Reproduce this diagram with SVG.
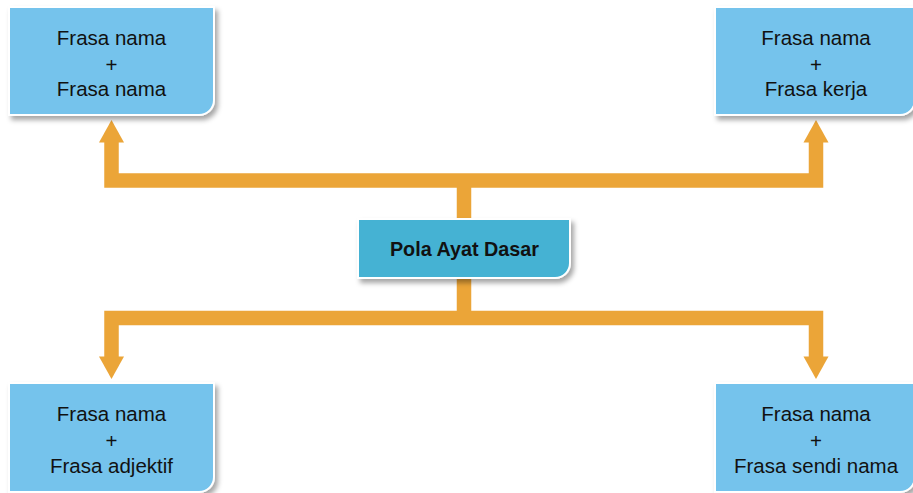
<svg xmlns="http://www.w3.org/2000/svg" width="913" height="493" viewBox="0 0 913 493">
  <defs>
    <filter id="sh" x="-10%" y="-10%" width="130%" height="140%">
      <feDropShadow dx="3" dy="4" stdDeviation="2.5" flood-color="#000" flood-opacity="0.35"/>
    </filter>
  </defs>
  <style>
    .box { fill: #74C3EC; stroke: #FFFFFF; stroke-width: 2; filter: url(#sh); }
    .main { fill: #44B2D3; stroke: #FFFFFF; stroke-width: 2; filter: url(#sh); }
    .t { font-family: "Liberation Sans", Arial, sans-serif; font-size: 20.5px; fill: #111111; text-anchor: middle; }
    .tb { font-family: "Liberation Sans", Arial, sans-serif; font-size: 19.8px; font-weight: bold; fill: #111111; text-anchor: middle; }
    .ln { fill: none; stroke: #EBA538; stroke-width: 14.5; stroke-linejoin: miter; stroke-linecap: butt; }
    .ah { fill: #EBA538; }
  </style>
  <rect width="913" height="493" fill="#FFFFFF"/>
  <g id="connectors">
    <path class="ln" d="M111.5 142 V180.5 H816 V142"/>
    <path class="ln" d="M464 180.5 V220"/>
    <path class="ln" d="M464 277 V318 M111.5 357 V318 H816 V357"/>
    <polygon class="ah" points="99,142.5 124,142.5 111.5,120"/>
    <polygon class="ah" points="803.5,142.5 828.5,142.5 816,120"/>
    <polygon class="ah" points="99,356.5 124,356.5 111.5,379"/>
    <polygon class="ah" points="803.5,356.5 828.5,356.5 816,379"/>
  </g>
  <g id="center">
    <path class="main" d="M358 219 H570 V263 A15 15 0 0 1 555 278 H358 Z"/>
    <text class="tb" x="464.5" y="256">Pola Ayat Dasar</text>
  </g>
  <g id="top-left">
    <path class="box" d="M9 7 H214 V100 A15 15 0 0 1 199 115 H9 Z"/>
    <text class="t" x="111.5" y="45">Frasa nama</text>
    <text class="t" x="111.5" y="72">+</text>
    <text class="t" x="111.5" y="96">Frasa nama</text>
  </g>
  <g id="top-right">
    <path class="box" d="M715 7 H915 V100 A15 15 0 0 1 900 115 H715 Z"/>
    <text class="t" x="816" y="45">Frasa nama</text>
    <text class="t" x="816" y="72">+</text>
    <text class="t" x="816" y="96">Frasa kerja</text>
  </g>
  <g id="bottom-left">
    <path class="box" d="M9 383 H214 V477 A15 15 0 0 1 199 492 H9 Z"/>
    <text class="t" x="111.5" y="421">Frasa nama</text>
    <text class="t" x="111.5" y="448">+</text>
    <text class="t" x="111.5" y="473">Frasa adjektif</text>
  </g>
  <g id="bottom-right">
    <path class="box" d="M715 383 H915 V477 A15 15 0 0 1 900 492 H715 Z"/>
    <text class="t" x="816" y="421">Frasa nama</text>
    <text class="t" x="816" y="448">+</text>
    <text class="t" x="816" y="473">Frasa sendi nama</text>
  </g>
</svg>
